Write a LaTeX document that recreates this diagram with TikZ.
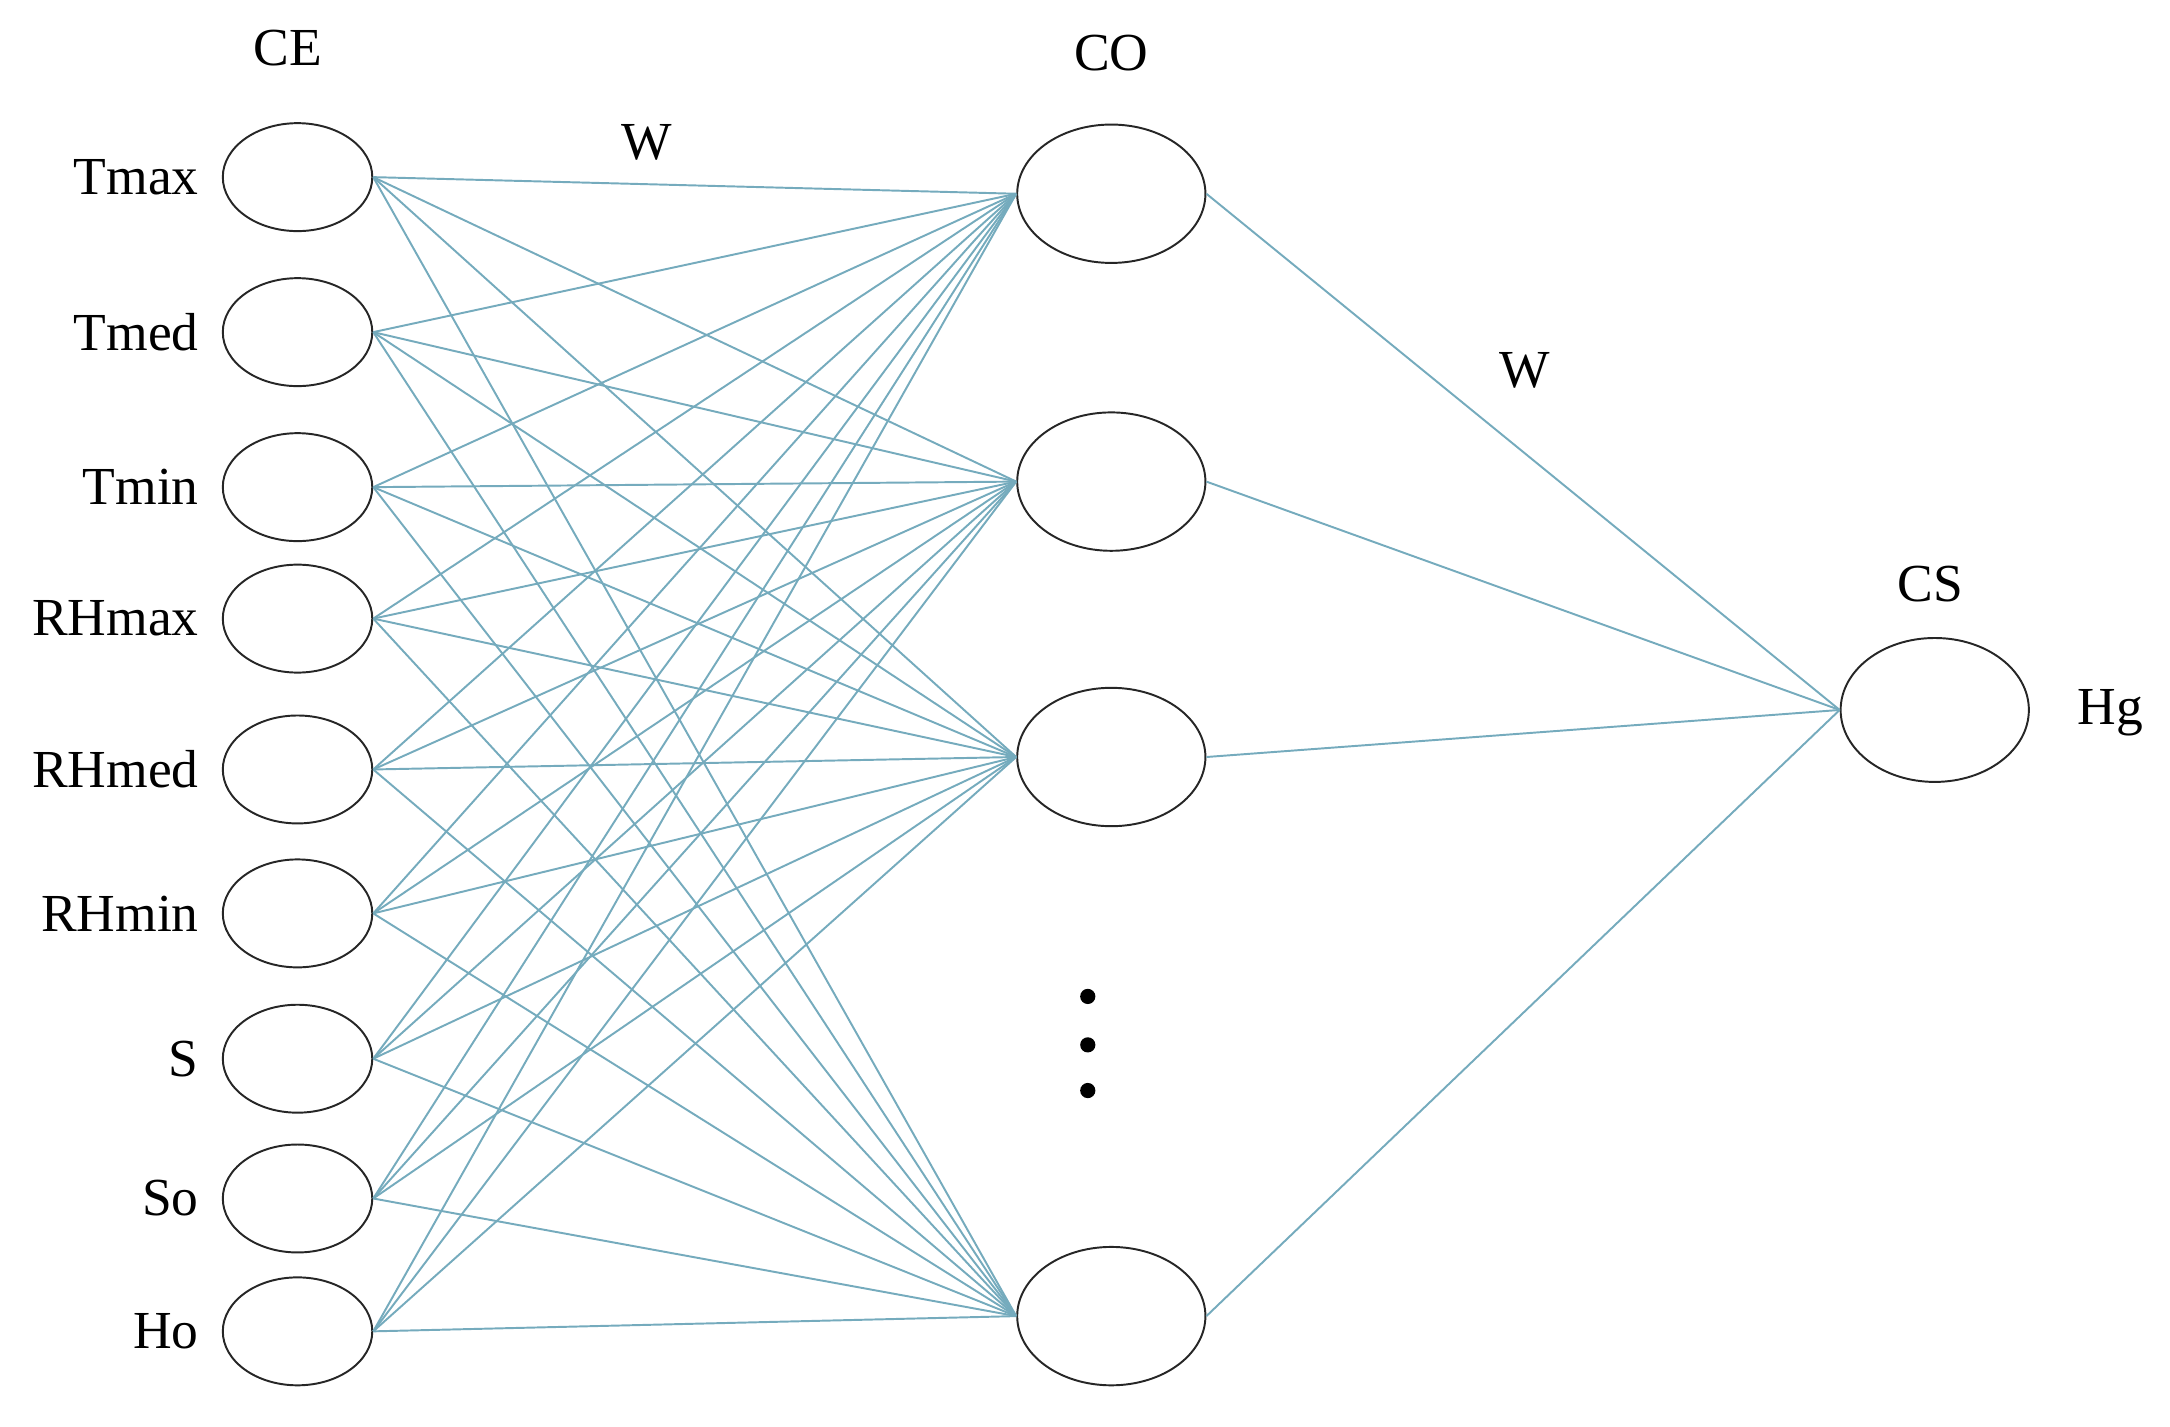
\documentclass[tikz,border=0pt]{standalone}
\usepackage{fontspec}
\setmainfont{Liberation Serif}
\usetikzlibrary{arrows,shapes.geometric}

\begin{document}
\begin{tikzpicture}[
    neuron/.style={draw=black!85,ellipse,minimum width=1.08cm,minimum height=0.78cm,inner sep=0pt},
    bigneuron/.style={draw=black!85,ellipse,minimum width=1.36cm,minimum height=1.0cm,inner sep=0pt},
    link/.style={draw=blue!25!cyan!35!gray!80,line width=0.4pt},
    lbl/.style={font=\fontsize{11}{13}\selectfont}]
  \useasboundingbox (0,0) rectangle (15.68,-10.31);
  % input layer
  \foreach \name/\y in {Tmax/1.28,Tmed/2.40,Tmin/3.52,RHmax/4.47,RHmed/5.56,RHmin/6.60,S/7.65,So/8.66,Ho/9.62}
  {
    \node[neuron] (in-\name) at (2.15,-\y) {};
    \node[lbl,anchor=east] at (1.56,-\y) {\name};
  }
  % hidden layer
  \foreach \i/\y in {1/1.40,2/3.48,3/5.47,4/9.51}
    \node[bigneuron] (hid-\i) at (8.03,-\y) {};
  % output layer
  \node[bigneuron,minimum height=1.04cm] (out) at (13.98,-5.13) {};
  % connections
  \foreach \name in {Tmax,Tmed,Tmin,RHmax,RHmed,RHmin,S,So,Ho}
    \foreach \i in {1,2,3,4}
      \draw[link] (in-\name.east) -- (hid-\i.west);
  \foreach \i in {1,2,3,4}
    \draw[link] (hid-\i.east) -- (out.west);
  % labels
  \node[lbl] (ce) at (2.08,-0.35) {CE};
  \node[lbl] (w1) at (4.67,-1.03) {W};
  \node[lbl] (co) at (8.03,-0.38) {CO};
  \node[lbl] (w2) at (11.02,-2.68) {W};
  \node[lbl] (cs) at (13.95,-4.22) {CS};
  \node[lbl] (hg) at (15.25,-5.15) {Hg};
  \foreach \y in {7.20,7.55,7.88}
    \fill (7.86,-\y) circle (0.055);
\end{tikzpicture}
\end{document}
